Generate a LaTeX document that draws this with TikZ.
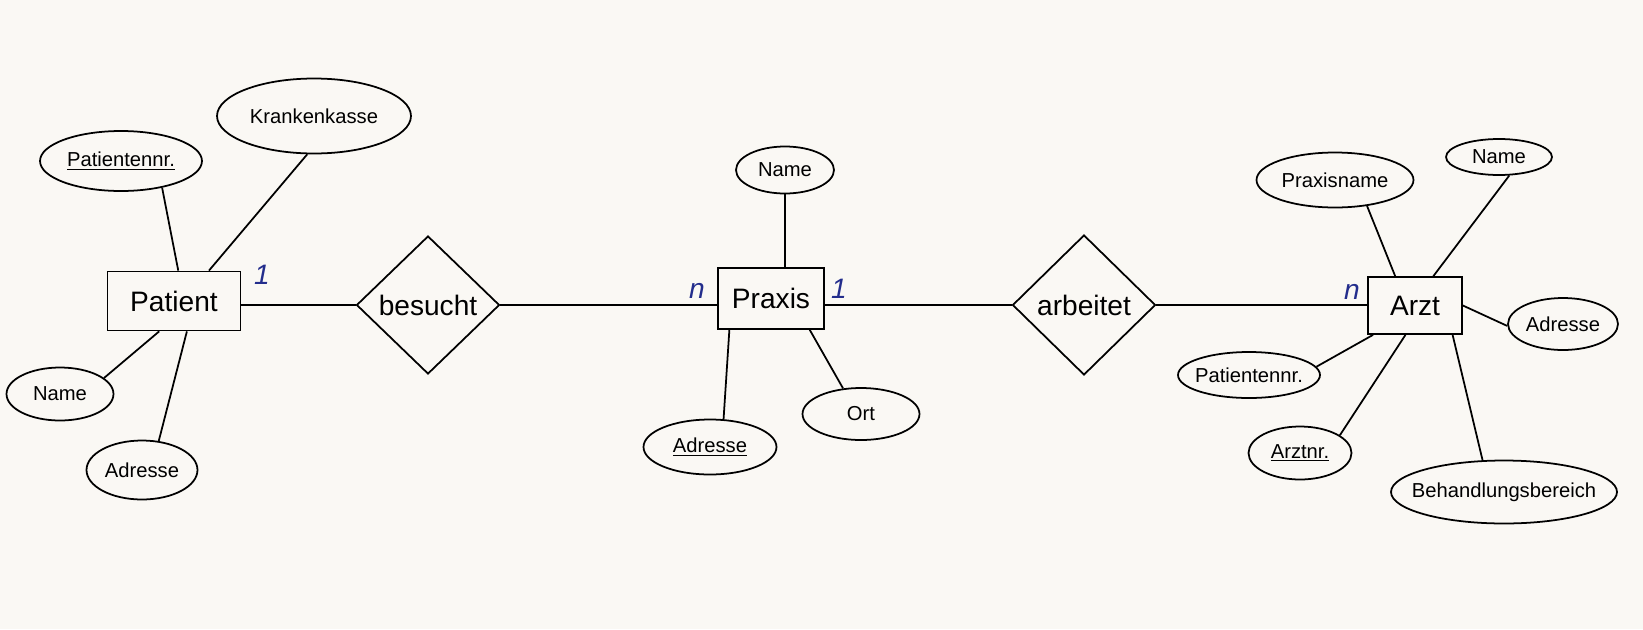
\documentclass[tikz,border=0pt]{standalone}
\usepackage{fontspec}
\setmainfont{Liberation Sans}
\usetikzlibrary{shapes.geometric, positioning}
\definecolor{paper}{RGB}{250,248,244}
\definecolor{pen}{RGB}{35,45,140}

\begin{document}
\begin{tikzpicture}[x=0.02cm, y=-0.02cm,
    entity/.style={rectangle, draw, line width=1pt, inner sep=0pt, font=\fontsize{16}{19}\selectfont},
    attr/.style={ellipse, draw, line width=1pt, inner sep=0pt, font=\fontsize{11.5}{14}\selectfont,
        execute at begin node={\hbox to 0pt\bgroup\hss}, execute at end node={\hss\egroup}},
    rel/.style={diamond, draw, line width=1pt, inner sep=0pt, minimum width=2.86cm, minimum height=2.76cm, font=\fontsize{16}{19}\selectfont},
    card/.style={text=pen, inner sep=0pt, font=\itshape\fontsize{16}{19}\selectfont},
    link/.style={draw, line width=1pt}]

    \path [use as bounding box, fill=paper] (0,0) rectangle (1643,629);

    % Patient
    \node [entity, minimum width=2.66cm, minimum height=1.18cm] (patient) at (174,301) {Patient};
    \node [attr, minimum width=3.88cm, minimum height=1.5cm] (kasse) at (314,116) {Krankenkasse};
    \node [attr, minimum width=3.24cm, minimum height=1.2cm] (patnr) at (121,161) {\underline{Patientennr.}};
    \node [attr, minimum width=2.14cm, minimum height=1.06cm] (patname) at (60,394) {Name};
    \node [attr, minimum width=2.22cm, minimum height=1.18cm] (patadr) at (142,470) {Adresse};

    \node [rel] (besucht) at (428,305) {besucht};

    % Praxis
    \node [entity, minimum width=2.12cm, minimum height=1.22cm] (praxis) at (771,298.5) {Praxis};
    \node [attr, minimum width=1.96cm, minimum height=0.94cm] (pxname) at (785,170) {Name};
    \node [attr, minimum width=2.66cm, minimum height=1.1cm] (pxadr) at (710,447) {\underline{Adresse}};
    \node [attr, minimum width=2.34cm, minimum height=1.04cm] (pxort) at (861,414) {Ort};

    \node [rel, minimum height=2.8cm] (arbeitet) at (1084,305) {arbeitet};

    % Arzt
    \node [entity, minimum width=1.88cm, minimum height=1.14cm] (arzt) at (1415,305.5) {Arzt};
    \node [attr, minimum width=3.14cm, minimum height=1.1cm] (azpname) at (1335,180) {Praxisname};
    \node [attr, minimum width=2.12cm, minimum height=0.72cm] (azname) at (1499,157) {Name};
    \node [attr, minimum width=2.2cm, minimum height=1.04cm] (azadr) at (1563,324) {Adresse};
    \node [attr, minimum width=2.84cm, minimum height=0.92cm] (azpatnr) at (1249,375) {Patientennr.};
    \node [attr, minimum width=2.06cm, minimum height=1.06cm] (aznr) at (1300,453) {\underline{Arztnr.}};
    \node [attr, minimum width=4.52cm, minimum height=1.26cm] (azbereich) at (1504,492) {Behandlungsbereich};

    % cardinalities
    \node [card] (cpatient) at (262,275) {1};
    \node [card] (cpraxisl) at (697,291) {n};
    \node [card] (cpraxisr) at (839,289) {1};
    \node [card] (carzt) at (1352,292) {n};

    \path [link] (patnr.-33) -- (patient.82);
    \path [link] (kasse.260) -- (patient.41);
    \path [link] (patname.20) -- (patient.244);
    \path [link] (patadr.60) -- (patient.293);
    \path [link] (besucht.west) -- (besucht.west -| patient.east);
    \path [link] (besucht.east) -- (besucht.east -| praxis.west);

    \path [link] (pxname.south) -- (pxname.south |- praxis.north);
    \path [link] (pxadr.64) -- (praxis.217);
    \path [link] (pxort.125) -- (praxis.321);
    \path [link] (arbeitet.west) -- (arbeitet.west -| praxis.east);
    \path [link] (arbeitet.east) -- (arbeitet.east -| arzt.west);

    \path [link] (azpname.321) -- (arzt.124);
    \path [link] (azname.299) -- (arzt.58);
    \path [link] (azadr.182) -- (arzt.east);
    \path [link] (azpatnr.7) -- (arzt.215);
    \path [link] (aznr.24) -- (arzt.252);
    \path [link] (azbereich.124) -- (arzt.322);
\end{tikzpicture}
\end{document}
